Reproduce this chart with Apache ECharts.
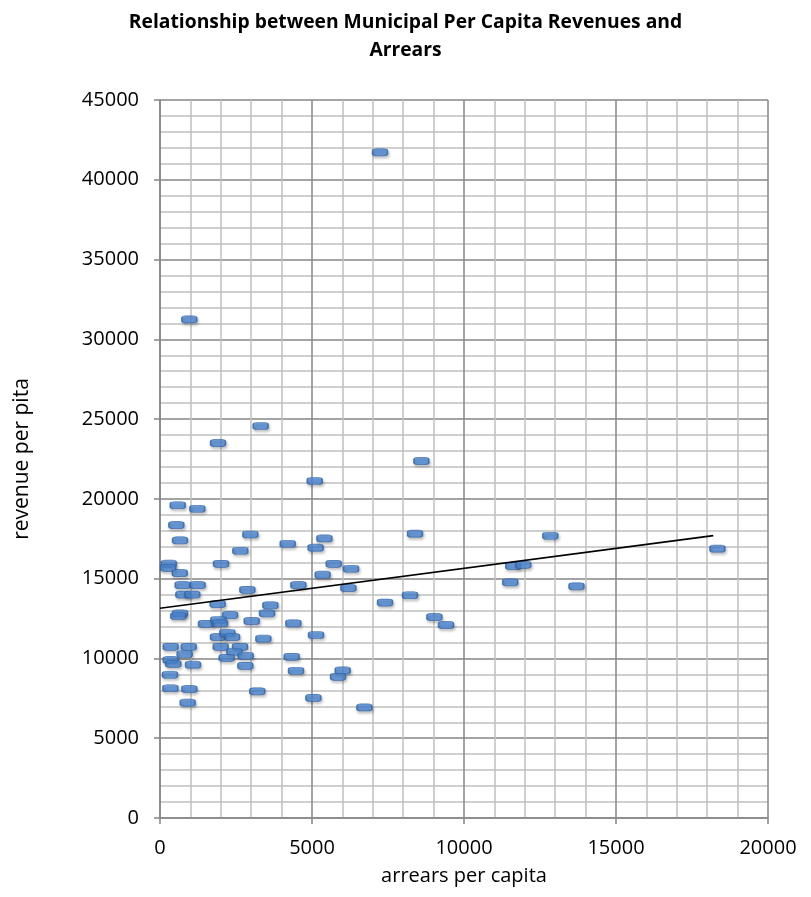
<!DOCTYPE html>
<html>
<head>
<meta charset="utf-8">
<script src="https://cdn.jsdelivr.net/npm/echarts@6/dist/echarts.min.js"></script>
<style>
  html, body { margin: 0; padding: 0; background: #fff; }
  #chart { width: 811px; height: 897px; }
</style>
</head>
<body>
<div id="chart"></div>
<script>
const titleText = 'Relationship between Municipal Per Capita Revenues and\nArrears';
const xAxisName = 'arrears per capita';
const yAxisName = 'revenue per pita';

const arrearsPerCapita = [
  582, 1228, 537, 658, 2972, 2642, 4200, 5120, 5407, 2007,
  290, 270, 650, 5714, 5350, 6284, 745, 1238, 768, 1063,
  2873, 4550, 6196, 1897, 658, 600, 2303, 3630, 3520, 1513,
  1919, 1974, 3017, 4386, 1908, 2215, 2369, 3400, 5132, 351,
  944, 812, 1996, 2632, 2445, 2818, 2193, 351, 438, 1085,
  2807, 4332, 4474, 6010, 5856, 329, 340, 964, 3200, 5044,
  911, 6722, 7402, 8224, 9024, 9408, 8598, 8388, 12840, 18336,
  11620, 11950, 11520, 13700, 3310, 1908, 5090, 964, 7237
];
const revenuePerCapita = [
  19600, 19380, 18360, 17400, 17770, 16750, 17190, 16940, 17520, 15930,
  15940, 15680, 15350, 15930, 15250, 15620, 14600, 14600, 14000, 14000,
  14300, 14600, 14410, 13410, 12820, 12660, 12720, 13330, 12830, 12170,
  12410, 12200, 12350, 12200, 11340, 11610, 11340, 11240, 11470, 10730,
  10730, 10280, 10730, 10730, 10420, 10170, 10040, 9900, 9660, 9610,
  9540, 10100, 9230, 9250, 8850, 8980, 8130, 8080, 7940, 7530,
  7230, 6930, 13500, 13960, 12600, 12100, 22380, 17820, 17690, 16880,
  15790, 15870, 14770, 14520, 24570, 23500, 21120, 31250, 41720
];
// linear trendline endpoints
const trendX = [0, 18200];
const trendY = [13150, 17700];

const xTicks = { min: 0, max: 20000, interval: 5000 };
const yTicks = { min: 0, max: 45000, interval: 5000 };

const points = arrearsPerCapita.map((x, i) => [x, revenuePerCapita[i]]);
const trend = trendX.map((x, i) => [x, trendY[i]]);

const font = '"Open Sans", "DejaVu Sans", sans-serif';
const majorColor = '#868686';
const minorColor = '#C0C0C0';

const chart = echarts.init(document.getElementById('chart'), null, { renderer: 'canvas' });
chart.setOption({
  animation: false,
  backgroundColor: '#ffffff',
  title: {
    text: titleText,
    left: 'center',
    top: 4,
    textStyle: { fontFamily: font, fontWeight: 'bold', fontSize: 19.3, color: '#000', lineHeight: 28 }
  },
  grid: { left: 160, right: 43, top: 100, bottom: 79, containLabel: false },
  xAxis: {
    type: 'value',
    min: xTicks.min, max: xTicks.max, interval: xTicks.interval,
    name: xAxisName,
    nameLocation: 'middle',
    nameGap: 48,
    nameMoveOverlap: false,
    nameTextStyle: { fontFamily: font, fontSize: 20, color: '#000' },
    axisLine: { show: true, onZero: false, lineStyle: { color: majorColor, width: 1.5 } },
    axisTick: { show: true, inside: false, length: 6, lineStyle: { color: majorColor, width: 1.5 } },
    axisLabel: { fontFamily: font, fontSize: 20, color: '#000', margin: 20, formatter: v => String(v) },
    splitLine: { show: true, lineStyle: { color: majorColor, width: 1.5 } },
    minorTick: { show: false, splitNumber: 5 },
    minorSplitLine: { show: true, lineStyle: { color: minorColor, width: 1.5 } }
  },
  yAxis: {
    type: 'value',
    min: yTicks.min, max: yTicks.max, interval: yTicks.interval,
    name: yAxisName,
    nameLocation: 'middle',
    nameGap: 127,
    nameRotate: 90,
    nameMoveOverlap: false,
    nameTextStyle: { fontFamily: font, fontSize: 21, color: '#000' },
    axisLine: { show: true, onZero: false, lineStyle: { color: majorColor, width: 1.5 } },
    axisTick: { show: true, inside: false, length: 6, lineStyle: { color: majorColor, width: 1.5 } },
    axisLabel: { fontFamily: font, fontSize: 20, color: '#000', margin: 21, formatter: v => String(v) },
    splitLine: { show: true, lineStyle: { color: majorColor, width: 1.5 } },
    minorTick: { show: false, splitNumber: 5 },
    minorSplitLine: { show: true, lineStyle: { color: minorColor, width: 1.5 } }
  },
  series: [
    {
      type: 'scatter',
      data: points,
      symbol: 'roundRect',
      symbolSize: [15, 7],
      itemStyle: {
        color: '#4C88D4',
        borderColor: '#2F62A8',
        borderWidth: 1,
        shadowBlur: 3,
        shadowColor: 'rgba(0,0,0,0.3)',
        shadowOffsetY: 2,
        shadowOffsetX: 1
      },
      z: 3
    },
    {
      type: 'line',
      data: trend,
      showSymbol: false,
      symbol: 'none',
      lineStyle: { color: '#000', width: 1.6 },
      z: 4
    }
  ]
});
</script>
</body>
</html>
